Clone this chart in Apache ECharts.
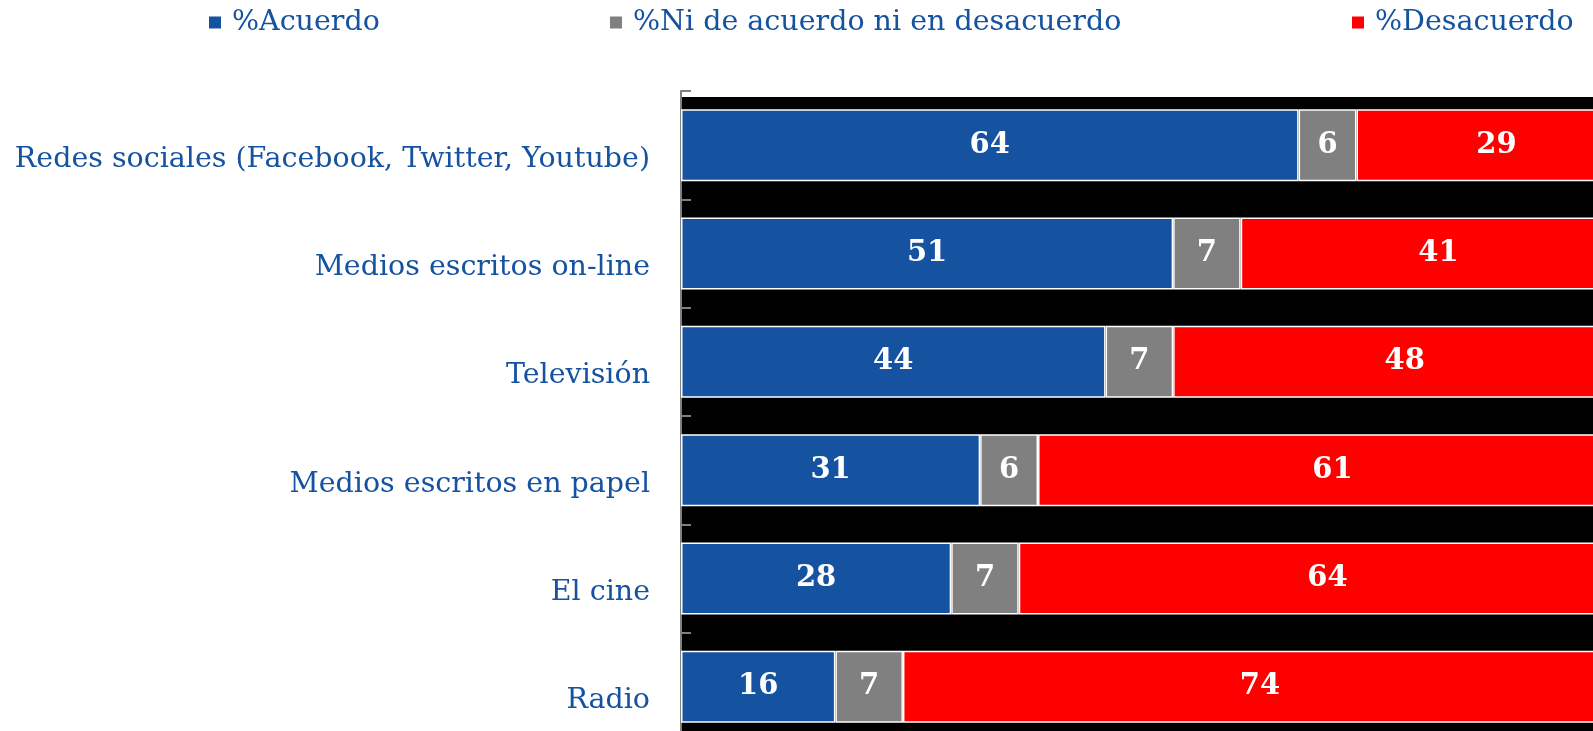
<!DOCTYPE html>
<html>
<head>
<meta charset="utf-8">
<script src="https://cdn.jsdelivr.net/npm/echarts@6/dist/echarts.min.js"></script>
<style>
  html, body { margin: 0; padding: 0; background: #fff; }
  #chart { width: 1593px; height: 731px; }
</style>
</head>
<body>
<div id="chart"></div>
<script>
// datos del gráfico
const categorias = [
  'Redes sociales (Facebook, Twitter, Youtube)',
  'Medios escritos on-line',
  'Televisión',
  'Medios escritos en papel',
  'El cine',
  'Radio'
]
const acuerdo = [64, 51, 44, 31, 28, 16]
const niNi = [6, 7, 7, 6, 7, 7]
const desacuerdo = [29, 41, 48, 61, 64, 74]
const nombres = ['%Acuerdo', '%Ni de acuerdo ni en desacuerdo', '%Desacuerdo']

const AZUL = '#1552a0'
const FUENTE = 'DejaVu Serif'

const myChart = echarts.init(document.getElementById('chart'))

// una serie apilada por respuesta
const makeSerie = (name, data, color) => ({
  name,
  type: 'bar',
  stack: 'total',
  data,
  barWidth: 72,
  xAxisIndex: 0,
  yAxisIndex: 0,
  itemStyle: {
    color,
    borderColor: '#fff',
    borderWidth: 1.5
  },
  label: {
    show: true,
    position: 'inside',
    color: '#fff',
    fontWeight: 'bold',
    fontSize: 29,
    fontFamily: FUENTE
  }
})

// leyenda: un bloque por elemento, como en el original
const legendLeft = [202, 603, 1345]
const legendColor = [AZUL, '#808080', '#ff0000']

const options = {
  animation: false,
  color: legendColor,
  legend: nombres.map((n, i) => ({
    data: [{ name: n, icon: 'rect' }],
    left: legendLeft[i],
    top: 3,
    itemWidth: 14,
    itemHeight: 14,
    textStyle: {
      color: AZUL,
      fontSize: 28.5,
      fontFamily: FUENTE,
      padding: [0, 0, 0, 5]
    }
  })),
  grid: [
    // barras (el eje sigue más allá del borde derecho)
    { left: 681, width: 965, top: 91, height: 650, outerBoundsMode: 'none' },
    // fondo negro
    { left: 681, width: 965, top: 97, height: 644, outerBoundsMode: 'none', show: true, backgroundColor: '#000', borderWidth: 0 }
  ],
  xAxis: [
    { type: 'value', min: 0, max: 100, show: false, gridIndex: 0 },
    { type: 'value', min: 0, max: 100, show: false, gridIndex: 1 }
  ],
  yAxis: [
    {
      type: 'category',
      gridIndex: 0,
      data: categorias,
      inverse: true,
      axisLine: { show: true, lineStyle: { color: '#808080', width: 2 } },
      axisTick: { show: true, inside: true, length: 10, lineStyle: { color: '#808080', width: 2 } },
      axisLabel: {
        color: AZUL,
        fontSize: 28.5,
        fontFamily: FUENTE,
        margin: 31,
        // las etiquetas quedan algo por debajo del centro de la barra
        verticalAlign: 'top',
        lineHeight: 28
      },
      splitLine: { show: false }
    },
    { type: 'category', gridIndex: 1, data: categorias, inverse: true, show: false }
  ],
  series: [
    makeSerie(nombres[0], acuerdo, AZUL),
    makeSerie(nombres[1], niNi, '#808080'),
    makeSerie(nombres[2], desacuerdo, '#ff0000')
  ]
}

myChart.setOption(options)
</script>
</body>
</html>
